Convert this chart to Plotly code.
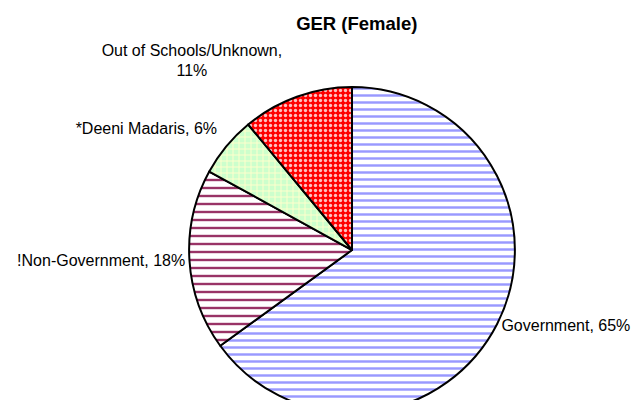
import plotly.graph_objects as go

labels = ["Government", "!Non-Government", "*Deeni Madaris", "Out of Schools/Unknown"]
values = [65, 18, 6, 11]
templates = ["%{label}, %{percent}", "%{label}, %{percent}",
             "%{label}, %{percent}<br> ", "%{label},<br>%{percent}<br> "]
fg_colors = ["#9999FF", "#993366", "#FFFFCC", "#FFC0C0"]
bg_colors = ["#FFFFFF", "#FFFFFF", "#CCFFCC", "#FF0000"]
shapes = ["-", "-", "+", "."]
sizes = [7, 8, 6, 5]
solidities = [0.35, 0.3, 0.3, 0.35]

fig = go.Figure(go.Pie(
    labels=labels,
    values=values,
    sort=False,
    direction="clockwise",
    rotation=0,
    texttemplate=templates,
    textposition="outside",
    textfont=dict(family="Liberation Sans, Arial", size=16, color="black"),
    marker=dict(
        colors=bg_colors,
        line=dict(color="black", width=2),
        pattern=dict(shape=shapes, fgcolor=fg_colors, bgcolor=bg_colors,
                     size=sizes, solidity=solidities, fillmode="replace"),
    ),
    domain=dict(x=[0.283, 0.792], y=[0.0357, 0.8119]),
    showlegend=False,
    hoverinfo="label+percent",
))

fig.update_layout(
    width=640, height=420,
    margin=dict(l=0, r=0, t=0, b=0),
    paper_bgcolor="white",
    title=dict(text="<b>GER (Female)</b>", x=0.545, xanchor="center", y=0.963, yanchor="middle",
               font=dict(family="Liberation Sans, Arial", size=18.5, color="black")),
)

fig.write_html("out.html")
